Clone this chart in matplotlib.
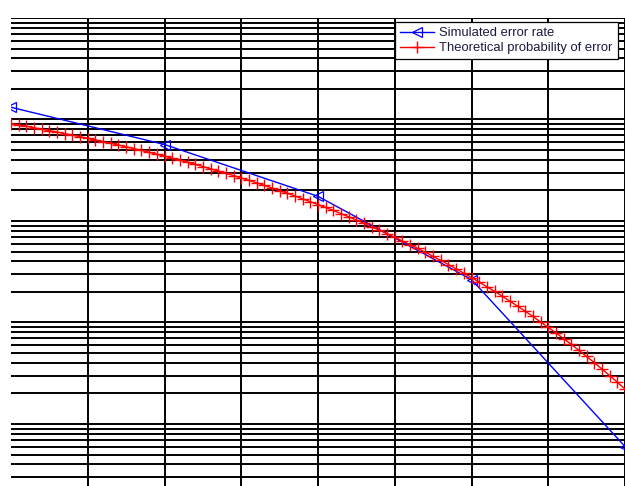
import numpy as np
import matplotlib
matplotlib.use("Agg")
import matplotlib.pyplot as plt
from matplotlib.ticker import LogLocator, NullFormatter

# Eb/N0 in dB
snr_sim = [0, 2, 4, 6, 8]
ber_sim = [0.132, 0.0567, 0.0175, 0.00265, 6.0e-5]

snr_theory = [round(0.1 * i, 1) for i in range(81)]
ber_theory = [
    0.0912, 0.0885, 0.0857, 0.0830, 0.0804, 0.0777, 0.0752, 0.0726, 0.0701, 0.0677,
    0.0653, 0.0629, 0.0606, 0.0583, 0.0560, 0.0538, 0.0517, 0.0496, 0.0475, 0.0455,
    0.0435, 0.0416, 0.0397, 0.0379, 0.0361, 0.0344, 0.0327, 0.0311, 0.0295, 0.0280,
    0.0265, 0.0251, 0.0238, 0.0224, 0.0212, 0.0199, 0.0188, 0.0176, 0.0165, 0.0155,
    0.0145, 0.0136, 0.0127, 0.0118, 0.0110, 0.0102, 0.00946, 0.00877, 0.00811, 0.00749,
    0.00691, 0.00636, 0.00585, 0.00536, 0.00491, 0.00448, 0.00409, 0.00372, 0.00338, 0.00306,
    0.00277, 0.00250, 0.00225, 0.00203, 0.00182, 0.00162, 0.00145, 0.00129, 0.00115, 0.00101,
    0.000896, 0.000790, 0.000694, 0.000608, 0.000531, 0.000463, 0.000402, 0.000348, 0.000300, 0.000258,
    0.000221,
]

plt.rcParams["font.family"] = ["Liberation Sans", "DejaVu Sans"]

W, H = 625, 486
fig = plt.figure(figsize=(W / 100, H / 100), dpi=100)
ax = fig.add_axes([11 / W, 0, 614 / W, 468 / H])

ax.semilogy(snr_sim, ber_sim, color="#0000ff", lw=1.0, marker="<",
            markersize=7, markerfacecolor="none", markeredgewidth=0.9,
            label="Simulated error rate")
ax.semilogy(snr_theory, ber_theory, color="#ff0000", lw=1.0, marker="+",
            markersize=9, markeredgewidth=1.0,
            label="Theoretical probability of error")

ax.set_xlim(0, 8)
ax.set_ylim(10 ** -4.611, 1)

# vertical grid only at 1..8, nothing on the left edge
ax.set_xticks(range(1, 9))
ax.yaxis.set_major_locator(LogLocator(base=10))
ax.yaxis.set_minor_locator(LogLocator(base=10, subs=np.arange(2, 10)))
ax.yaxis.set_minor_formatter(NullFormatter())
ax.grid(True, which="both", color="black", lw=1.4)
ax.set_axisbelow(True)

ax.tick_params(which="both", length=0, labelleft=False, labelbottom=False)
for side in ["left", "right", "bottom", "top"]:
    ax.spines[side].set_visible(False)

leg = ax.legend(loc="upper right", bbox_to_anchor=(618 / W, 1 - 22 / H),
                bbox_transform=fig.transFigure, fontsize=9.4, frameon=True,
                fancybox=False, framealpha=1, edgecolor="black",
                borderaxespad=0, borderpad=0.4, handlelength=2.6,
                handletextpad=0.4, labelspacing=0.2)
leg.get_frame().set_linewidth(0.9)
for txt in leg.get_texts():
    txt.set_color("#1a1a40")

fig.savefig("out.png", dpi=100)
